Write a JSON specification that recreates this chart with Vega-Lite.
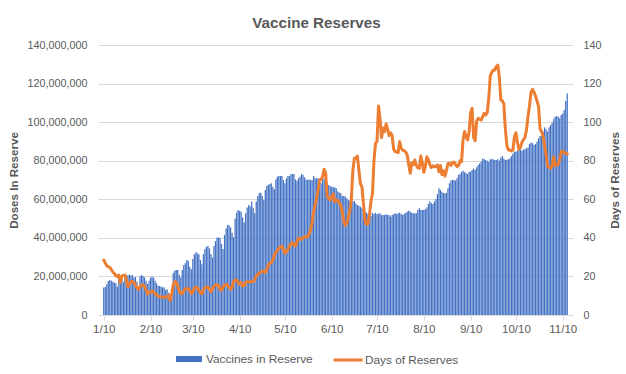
{
"$schema":"https://vega.github.io/schema/vega-lite/v6.json",
"width":475,"height":270,
"autosize":{"type":"none"},
"padding":{"left":98,"top":45,"right":53,"bottom":59},
"background":"white",
"title":{"text":"Vaccine Reserves","font":"Liberation Sans","fontSize":15.2,"fontWeight":"bold","color":"#595959","anchor":"middle","frame":"group","dx":-19,"offset":8},
"config":{"view":{"stroke":null},"font":"Liberation Sans","axis":{"labelFont":"Liberation Sans","titleFont":"Liberation Sans"},"legend":{"labelFont":"Liberation Sans"}},
"data":{"format":{"parse":{"date":"date:'%Y-%m-%d'"}},"values":[
{"date":"2021-01-10","doses":14200000,"days":28.5},
{"date":"2021-01-11","doses":14500000,"days":27.0},
{"date":"2021-01-12","doses":16000000,"days":25.5},
{"date":"2021-01-13","doses":17600000,"days":25.0},
{"date":"2021-01-14","doses":18100000,"days":24.7},
{"date":"2021-01-15","doses":17800000,"days":23.5},
{"date":"2021-01-16","doses":17300000,"days":22.3},
{"date":"2021-01-17","doses":16800000,"days":21.5},
{"date":"2021-01-18","doses":16400000,"days":20.5},
{"date":"2021-01-19","doses":14700000,"days":19.9},
{"date":"2021-01-20","doses":19000000,"days":20.7},
{"date":"2021-01-21","doses":19200000,"days":16.8},
{"date":"2021-01-22","doses":18500000,"days":20.2},
{"date":"2021-01-23","doses":17000000,"days":20.5},
{"date":"2021-01-24","doses":20000000,"days":20.7},
{"date":"2021-01-25","doses":20700000,"days":18.0},
{"date":"2021-01-26","doses":20500000,"days":14.7},
{"date":"2021-01-27","doses":21000000,"days":16.0},
{"date":"2021-01-28","doses":20500000,"days":17.3},
{"date":"2021-01-29","doses":20700000,"days":17.5},
{"date":"2021-01-30","doses":19500000,"days":16.8},
{"date":"2021-01-31","doses":19700000,"days":15.5},
{"date":"2021-02-01","doses":17300000,"days":14.0},
{"date":"2021-02-02","doses":14700000,"days":13.3},
{"date":"2021-02-03","doses":20000000,"days":14.5},
{"date":"2021-02-04","doses":20700000,"days":15.6},
{"date":"2021-02-05","doses":20200000,"days":15.5},
{"date":"2021-02-06","doses":19500000,"days":15.0},
{"date":"2021-02-07","doses":17800000,"days":13.0},
{"date":"2021-02-08","doses":16100000,"days":10.9},
{"date":"2021-02-09","doses":17800000,"days":11.5},
{"date":"2021-02-10","doses":19400000,"days":12.1},
{"date":"2021-02-11","doses":19900000,"days":12.3},
{"date":"2021-02-12","doses":19400000,"days":12.1},
{"date":"2021-02-13","doses":17800000,"days":11.0},
{"date":"2021-02-14","doses":16400000,"days":10.4},
{"date":"2021-02-15","doses":15200000,"days":9.8},
{"date":"2021-02-16","doses":15000000,"days":9.5},
{"date":"2021-02-17","doses":14700000,"days":9.4},
{"date":"2021-02-18","doses":14400000,"days":9.3},
{"date":"2021-02-19","doses":14200000,"days":9.2},
{"date":"2021-02-20","doses":13000000,"days":9.2},
{"date":"2021-02-21","doses":13300000,"days":9.6},
{"date":"2021-02-22","doses":11600000,"days":10.2},
{"date":"2021-02-23","doses":9500000,"days":7.4},
{"date":"2021-02-24","doses":13800000,"days":11.0},
{"date":"2021-02-25","doses":21600000,"days":15.5},
{"date":"2021-02-26","doses":23000000,"days":17.3},
{"date":"2021-02-27","doses":23300000,"days":17.0},
{"date":"2021-02-28","doses":23300000,"days":15.0},
{"date":"2021-03-01","doses":20700000,"days":12.5},
{"date":"2021-03-02","doses":19400000,"days":11.2},
{"date":"2021-03-03","doses":23300000,"days":11.0},
{"date":"2021-03-04","doses":25900000,"days":12.5},
{"date":"2021-03-05","doses":26800000,"days":13.5},
{"date":"2021-03-06","doses":28500000,"days":13.8},
{"date":"2021-03-07","doses":28000000,"days":13.5},
{"date":"2021-03-08","doses":25000000,"days":12.5},
{"date":"2021-03-09","doses":23700000,"days":11.2},
{"date":"2021-03-10","doses":29000000,"days":12.0},
{"date":"2021-03-11","doses":31500000,"days":14.0},
{"date":"2021-03-12","doses":32500000,"days":14.3},
{"date":"2021-03-13","doses":32000000,"days":14.3},
{"date":"2021-03-14","doses":31500000,"days":13.0},
{"date":"2021-03-15","doses":28500000,"days":11.5},
{"date":"2021-03-16","doses":26300000,"days":11.0},
{"date":"2021-03-17","doses":31500000,"days":13.0},
{"date":"2021-03-18","doses":34200000,"days":14.3},
{"date":"2021-03-19","doses":35400000,"days":14.3},
{"date":"2021-03-20","doses":35800000,"days":14.5},
{"date":"2021-03-21","doses":34600000,"days":13.5},
{"date":"2021-03-22","doses":31600000,"days":12.1},
{"date":"2021-03-23","doses":29900000,"days":13.5},
{"date":"2021-03-24","doses":35800000,"days":15.0},
{"date":"2021-03-25","doses":38400000,"days":15.6},
{"date":"2021-03-26","doses":40100000,"days":15.6},
{"date":"2021-03-27","doses":40300000,"days":15.2},
{"date":"2021-03-28","doses":39800000,"days":13.3},
{"date":"2021-03-29","doses":36800000,"days":12.8},
{"date":"2021-03-30","doses":34200000,"days":14.5},
{"date":"2021-03-31","doses":41500000,"days":15.6},
{"date":"2021-04-01","doses":44900000,"days":15.8},
{"date":"2021-04-02","doses":46700000,"days":15.6},
{"date":"2021-04-03","doses":46500000,"days":14.3},
{"date":"2021-04-04","doses":45500000,"days":13.3},
{"date":"2021-04-05","doses":42700000,"days":14.5},
{"date":"2021-04-06","doses":40300000,"days":17.3},
{"date":"2021-04-07","doses":50100000,"days":18.1},
{"date":"2021-04-08","doses":53100000,"days":18.1},
{"date":"2021-04-09","doses":54400000,"days":17.0},
{"date":"2021-04-10","doses":53900000,"days":16.0},
{"date":"2021-04-11","doses":53600000,"days":17.0},
{"date":"2021-04-12","doses":50500000,"days":15.0},
{"date":"2021-04-13","doses":47900000,"days":15.3},
{"date":"2021-04-14","doses":52700000,"days":16.8},
{"date":"2021-04-15","doses":55800000,"days":17.3},
{"date":"2021-04-16","doses":57000000,"days":17.3},
{"date":"2021-04-17","doses":56200000,"days":17.3},
{"date":"2021-04-18","doses":58800000,"days":17.3},
{"date":"2021-04-19","doses":55300000,"days":17.3},
{"date":"2021-04-20","doses":52700000,"days":18.5},
{"date":"2021-04-21","doses":58800000,"days":20.2},
{"date":"2021-04-22","doses":61700000,"days":21.0},
{"date":"2021-04-23","doses":63100000,"days":21.9},
{"date":"2021-04-24","doses":63400000,"days":22.0},
{"date":"2021-04-25","doses":61700000,"days":22.5},
{"date":"2021-04-26","doses":59600000,"days":23.0},
{"date":"2021-04-27","doses":64800000,"days":22.0},
{"date":"2021-04-28","doses":66900000,"days":23.5},
{"date":"2021-04-29","doses":67500000,"days":26.0},
{"date":"2021-04-30","doses":67900000,"days":26.8},
{"date":"2021-05-01","doses":68300000,"days":27.1},
{"date":"2021-05-02","doses":66500000,"days":28.5},
{"date":"2021-05-03","doses":65200000,"days":31.0},
{"date":"2021-05-04","doses":70300000,"days":32.5},
{"date":"2021-05-05","doses":71700000,"days":33.5},
{"date":"2021-05-06","doses":72100000,"days":34.6},
{"date":"2021-05-07","doses":72100000,"days":35.3},
{"date":"2021-05-08","doses":72100000,"days":35.8},
{"date":"2021-05-09","doses":70000000,"days":34.0},
{"date":"2021-05-10","doses":68300000,"days":32.0},
{"date":"2021-05-11","doses":70900000,"days":33.0},
{"date":"2021-05-12","doses":72100000,"days":34.0},
{"date":"2021-05-13","doses":72100000,"days":35.5},
{"date":"2021-05-14","doses":73100000,"days":37.0},
{"date":"2021-05-15","doses":73100000,"days":37.5},
{"date":"2021-05-16","doses":73100000,"days":36.3},
{"date":"2021-05-17","doses":70300000,"days":35.8},
{"date":"2021-05-18","doses":69600000,"days":38.0},
{"date":"2021-05-19","doses":70900000,"days":39.8},
{"date":"2021-05-20","doses":71700000,"days":39.5},
{"date":"2021-05-21","doses":73100000,"days":39.2},
{"date":"2021-05-22","doses":72600000,"days":40.0},
{"date":"2021-05-23","doses":71400000,"days":40.6},
{"date":"2021-05-24","doses":70300000,"days":40.6},
{"date":"2021-05-25","doses":70000000,"days":40.6},
{"date":"2021-05-26","doses":70300000,"days":42.0},
{"date":"2021-05-27","doses":70000000,"days":44.1},
{"date":"2021-05-28","doses":70000000,"days":48.0},
{"date":"2021-05-29","doses":72000000,"days":53.6},
{"date":"2021-05-30","doses":70900000,"days":57.0},
{"date":"2021-05-31","doses":70900000,"days":60.5},
{"date":"2021-06-01","doses":70900000,"days":65.0},
{"date":"2021-06-02","doses":69100000,"days":70.0},
{"date":"2021-06-03","doses":68300000,"days":70.3},
{"date":"2021-06-04","doses":70300000,"days":72.0},
{"date":"2021-06-05","doses":70900000,"days":75.5},
{"date":"2021-06-06","doses":69100000,"days":73.5},
{"date":"2021-06-07","doses":68300000,"days":61.4},
{"date":"2021-06-08","doses":67400000,"days":60.5},
{"date":"2021-06-09","doses":66900000,"days":59.6},
{"date":"2021-06-10","doses":66500000,"days":61.5},
{"date":"2021-06-11","doses":66200000,"days":62.7},
{"date":"2021-06-12","doses":66200000,"days":58.8},
{"date":"2021-06-13","doses":65700000,"days":59.6},
{"date":"2021-06-14","doses":64000000,"days":59.3},
{"date":"2021-06-15","doses":63500000,"days":58.0},
{"date":"2021-06-16","doses":63100000,"days":57.0},
{"date":"2021-06-17","doses":61700000,"days":53.5},
{"date":"2021-06-18","doses":61700000,"days":48.5},
{"date":"2021-06-19","doses":61400000,"days":46.5},
{"date":"2021-06-20","doses":60500000,"days":47.5},
{"date":"2021-06-21","doses":59600000,"days":50.5},
{"date":"2021-06-22","doses":59300000,"days":54.0},
{"date":"2021-06-23","doses":58800000,"days":60.0},
{"date":"2021-06-24","doses":58800000,"days":75.0},
{"date":"2021-06-25","doses":59100000,"days":81.2},
{"date":"2021-06-26","doses":57900000,"days":81.5},
{"date":"2021-06-27","doses":57000000,"days":82.4},
{"date":"2021-06-28","doses":56600000,"days":75.0},
{"date":"2021-06-29","doses":56200000,"days":68.0},
{"date":"2021-06-30","doses":55300000,"days":66.5},
{"date":"2021-07-01","doses":54800000,"days":58.0},
{"date":"2021-07-02","doses":53600000,"days":49.0},
{"date":"2021-07-03","doses":53100000,"days":47.0},
{"date":"2021-07-04","doses":52400000,"days":47.2},
{"date":"2021-07-05","doses":51900000,"days":52.0},
{"date":"2021-07-06","doses":51300000,"days":59.0},
{"date":"2021-07-07","doses":53000000,"days":63.0},
{"date":"2021-07-08","doses":52400000,"days":80.0},
{"date":"2021-07-09","doses":53000000,"days":89.0},
{"date":"2021-07-10","doses":52400000,"days":90.0},
{"date":"2021-07-11","doses":52600000,"days":108.4},
{"date":"2021-07-12","doses":52700000,"days":102.0},
{"date":"2021-07-13","doses":51900000,"days":92.0},
{"date":"2021-07-14","doses":51900000,"days":97.0},
{"date":"2021-07-15","doses":51900000,"days":95.0},
{"date":"2021-07-16","doses":52200000,"days":99.0},
{"date":"2021-07-17","doses":51900000,"days":96.5},
{"date":"2021-07-18","doses":51900000,"days":93.0},
{"date":"2021-07-19","doses":51000000,"days":94.5},
{"date":"2021-07-20","doses":51900000,"days":93.0},
{"date":"2021-07-21","doses":52200000,"days":86.0},
{"date":"2021-07-22","doses":52700000,"days":84.7},
{"date":"2021-07-23","doses":52400000,"days":84.7},
{"date":"2021-07-24","doses":52700000,"days":84.2},
{"date":"2021-07-25","doses":53000000,"days":89.9},
{"date":"2021-07-26","doses":52400000,"days":86.4},
{"date":"2021-07-27","doses":51900000,"days":85.5},
{"date":"2021-07-28","doses":52400000,"days":85.2},
{"date":"2021-07-29","doses":53000000,"days":84.5},
{"date":"2021-07-30","doses":53600000,"days":83.0},
{"date":"2021-07-31","doses":54100000,"days":78.0},
{"date":"2021-08-01","doses":53600000,"days":73.5},
{"date":"2021-08-02","doses":53000000,"days":79.0},
{"date":"2021-08-03","doses":52700000,"days":78.0},
{"date":"2021-08-04","doses":52700000,"days":80.4},
{"date":"2021-08-05","doses":52700000,"days":77.5},
{"date":"2021-08-06","doses":54400000,"days":76.3},
{"date":"2021-08-07","doses":55300000,"days":76.0},
{"date":"2021-08-08","doses":54400000,"days":82.4},
{"date":"2021-08-09","doses":54400000,"days":79.0},
{"date":"2021-08-10","doses":54600000,"days":74.0},
{"date":"2021-08-11","doses":54800000,"days":77.0},
{"date":"2021-08-12","doses":55800000,"days":82.0},
{"date":"2021-08-13","doses":57600000,"days":80.5},
{"date":"2021-08-14","doses":58800000,"days":78.0},
{"date":"2021-08-15","doses":57900000,"days":76.5},
{"date":"2021-08-16","doses":57600000,"days":77.3},
{"date":"2021-08-17","doses":58800000,"days":76.8},
{"date":"2021-08-18","doses":60000000,"days":77.0},
{"date":"2021-08-19","doses":62700000,"days":77.8},
{"date":"2021-08-20","doses":65700000,"days":74.3},
{"date":"2021-08-21","doses":64800000,"days":77.5},
{"date":"2021-08-22","doses":63900000,"days":72.8},
{"date":"2021-08-23","doses":63200000,"days":74.8},
{"date":"2021-08-24","doses":63100000,"days":72.0},
{"date":"2021-08-25","doses":63300000,"days":75.0},
{"date":"2021-08-26","doses":65700000,"days":78.5},
{"date":"2021-08-27","doses":68300000,"days":78.8},
{"date":"2021-08-28","doses":69700000,"days":77.5},
{"date":"2021-08-29","doses":70000000,"days":79.0},
{"date":"2021-08-30","doses":70000000,"days":79.3},
{"date":"2021-08-31","doses":69700000,"days":78.0},
{"date":"2021-09-01","doses":70900000,"days":77.0},
{"date":"2021-09-02","doses":72600000,"days":77.5},
{"date":"2021-09-03","doses":73100000,"days":80.0},
{"date":"2021-09-04","doses":74300000,"days":79.5},
{"date":"2021-09-05","doses":74800000,"days":91.0},
{"date":"2021-09-06","doses":74100000,"days":95.1},
{"date":"2021-09-07","doses":73500000,"days":92.3},
{"date":"2021-09-08","doses":73100000,"days":90.8},
{"date":"2021-09-09","doses":74300000,"days":95.0},
{"date":"2021-09-10","doses":74300000,"days":105.0},
{"date":"2021-09-11","doses":75200000,"days":107.2},
{"date":"2021-09-12","doses":76000000,"days":92.0},
{"date":"2021-09-13","doses":75200000,"days":90.4},
{"date":"2021-09-14","doses":76600000,"days":100.5},
{"date":"2021-09-15","doses":77800000,"days":102.0},
{"date":"2021-09-16","doses":78600000,"days":101.5},
{"date":"2021-09-17","doses":79500000,"days":101.1},
{"date":"2021-09-18","doses":81200000,"days":102.8},
{"date":"2021-09-19","doses":80800000,"days":104.6},
{"date":"2021-09-20","doses":80400000,"days":103.7},
{"date":"2021-09-21","doses":80000000,"days":105.0},
{"date":"2021-09-22","doses":79500000,"days":112.0},
{"date":"2021-09-23","doses":80700000,"days":124.0},
{"date":"2021-09-24","doses":80700000,"days":125.8},
{"date":"2021-09-25","doses":80700000,"days":127.0},
{"date":"2021-09-26","doses":80400000,"days":127.0},
{"date":"2021-09-27","doses":80400000,"days":128.8},
{"date":"2021-09-28","doses":80700000,"days":129.6},
{"date":"2021-09-29","doses":80000000,"days":123.6},
{"date":"2021-09-30","doses":81700000,"days":111.5},
{"date":"2021-10-01","doses":82400000,"days":111.1},
{"date":"2021-10-02","doses":81200000,"days":109.5},
{"date":"2021-10-03","doses":80400000,"days":96.5},
{"date":"2021-10-04","doses":80500000,"days":88.0},
{"date":"2021-10-05","doses":80700000,"days":85.5},
{"date":"2021-10-06","doses":81200000,"days":85.5},
{"date":"2021-10-07","doses":82400000,"days":85.0},
{"date":"2021-10-08","doses":83800000,"days":85.5},
{"date":"2021-10-09","doses":84700000,"days":92.5},
{"date":"2021-10-10","doses":84700000,"days":94.5},
{"date":"2021-10-11","doses":85200000,"days":89.5},
{"date":"2021-10-12","doses":85500000,"days":86.0},
{"date":"2021-10-13","doses":85900000,"days":87.0},
{"date":"2021-10-14","doses":85200000,"days":89.5},
{"date":"2021-10-15","doses":85900000,"days":91.0},
{"date":"2021-10-16","doses":85900000,"days":92.1},
{"date":"2021-10-17","doses":86500000,"days":96.0},
{"date":"2021-10-18","doses":86900000,"days":103.0},
{"date":"2021-10-19","doses":88700000,"days":108.5},
{"date":"2021-10-20","doses":89400000,"days":115.5},
{"date":"2021-10-21","doses":89000000,"days":117.0},
{"date":"2021-10-22","doses":88100000,"days":115.5},
{"date":"2021-10-23","doses":88700000,"days":113.5},
{"date":"2021-10-24","doses":89900000,"days":111.0},
{"date":"2021-10-25","doses":91600000,"days":108.0},
{"date":"2021-10-26","doses":92800000,"days":96.5},
{"date":"2021-10-27","doses":92800000,"days":95.1},
{"date":"2021-10-28","doses":95100000,"days":92.5},
{"date":"2021-10-29","doses":97300000,"days":88.0},
{"date":"2021-10-30","doses":96300000,"days":83.0},
{"date":"2021-10-31","doses":95100000,"days":77.0},
{"date":"2021-11-01","doses":97300000,"days":76.6},
{"date":"2021-11-02","doses":98500000,"days":76.0},
{"date":"2021-11-03","doses":99700000,"days":77.5},
{"date":"2021-11-04","doses":101500000,"days":82.0},
{"date":"2021-11-05","doses":102800000,"days":77.5},
{"date":"2021-11-06","doses":103200000,"days":77.8},
{"date":"2021-11-07","doses":102800000,"days":78.3},
{"date":"2021-11-08","doses":102000000,"days":80.5},
{"date":"2021-11-09","doses":103700000,"days":84.5},
{"date":"2021-11-10","doses":104500000,"days":85.0},
{"date":"2021-11-11","doses":106300000,"days":84.2},
{"date":"2021-11-12","doses":111000000,"days":83.8},
{"date":"2021-11-13","doses":114800000,"days":83.5}
]},
"encoding":{
"x":{"field":"date","type":"temporal",
"scale":{"domain":[{"year":2021,"month":1,"date":9,"hours":12},{"year":2021,"month":11,"date":13,"hours":12}]},
"axis":{"title":null,"values":[{"year":2021,"month":1,"date":10},{"year":2021,"month":2,"date":10},{"year":2021,"month":3,"date":10},{"year":2021,"month":4,"date":10},{"year":2021,"month":5,"date":10},{"year":2021,"month":6,"date":10},{"year":2021,"month":7,"date":10},{"year":2021,"month":8,"date":10},{"year":2021,"month":9,"date":10},{"year":2021,"month":10,"date":10},{"year":2021,"month":11,"date":10}],
"format":"%-m/%-d","grid":false,"labelFontSize":11.5,"labelColor":"#595959","domainColor":"#D9D9D9","tickColor":"#D9D9D9","tickSize":5,"labelPadding":3,"labelOverlap":false,"labelFlush":false}}
},
"layer":[
{"mark":{"type":"bar","size":1.25,"color":"#4472C4"},
"encoding":{
"y":{"field":"doses","type":"quantitative","scale":{"domain":[0,140000000],"nice":false},
"axis":{"orient":"left","title":"Doses In Reserve","titleFontSize":11.6,"titleFontWeight":"bold","titleColor":"#595959","titlePadding":7,"values":[0,20000000,40000000,60000000,80000000,100000000,120000000,140000000],"format":",.0f","labelFontSize":10.8,"labelColor":"#595959","grid":true,"gridColor":"#D9D9D9","domain":false,"ticks":false,"labelPadding":11}},
"color":{"datum":"Vaccines in Reserve","type":"nominal","scale":{"range":["#4472C4"]},
"legend":{"title":null,"orient":"none","legendX":77,"legendY":300,"symbolType":"M-1,-0.23H1V0.23H-1Z","symbolSize":676,"symbolOpacity":1,"labelFontSize":11.8,"labelColor":"#595959","labelOffset":3,"padding":0}}
}},
{"mark":{"type":"line","strokeWidth":3,"strokeJoin":"round","strokeCap":"round"},
"encoding":{
"y":{"field":"days","type":"quantitative","scale":{"domain":[0,140],"nice":false},
"axis":{"orient":"right","title":"Days of Reserves","titleAngle":270,"titleFontSize":11.6,"titleFontWeight":"bold","titleColor":"#595959","titlePadding":19,"values":[0,20,40,60,80,100,120,140],"labelFontSize":10.8,"labelColor":"#595959","grid":false,"domain":false,"ticks":false,"labelPadding":10}},
"stroke":{"datum":"Days of Reserves","type":"nominal","scale":{"range":["#ED7D31"]},
"legend":{"title":null,"orient":"none","legendX":234,"legendY":299,"symbolType":"stroke","symbolSize":841,"symbolStrokeWidth":3,"labelFontSize":11.8,"labelColor":"#595959","labelOffset":1,"padding":0}}
}}
],
"resolve":{"scale":{"y":"independent"}}
}
